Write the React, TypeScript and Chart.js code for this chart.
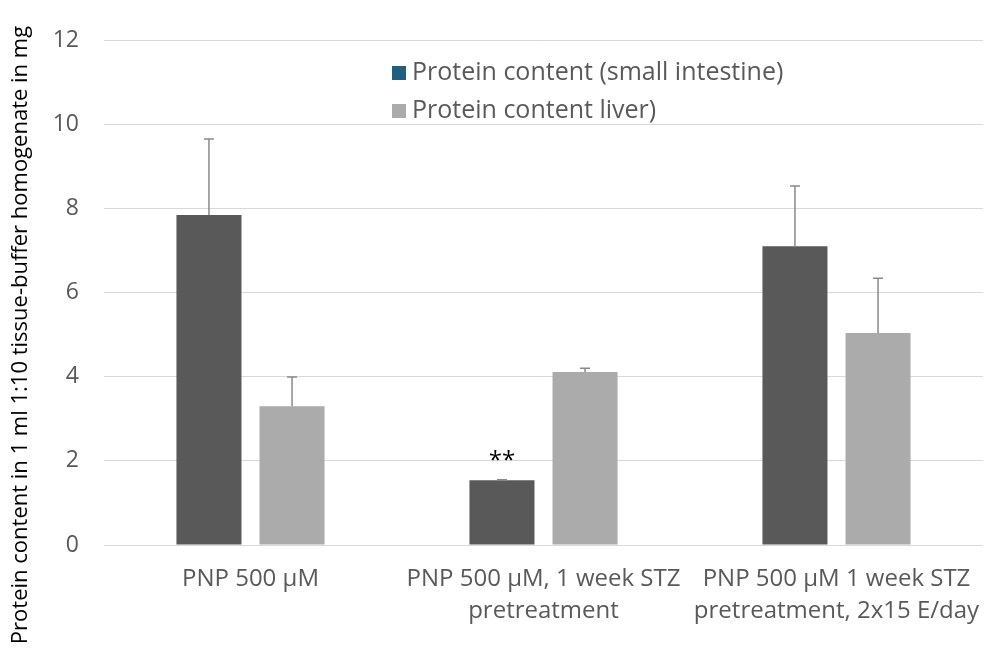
import React, { useEffect, useRef } from 'react';
import { Chart, registerables } from 'chart.js';

Chart.register(...registerables);

const categories: string[][] = [
  ['PNP 500 µM'],
  ['PNP 500 µM, 1 week STZ', 'pretreatment'],
  ['PNP 500 µM 1 week STZ', 'pretreatment, 2x15 E/day'],
];
const seriesNames = ['Protein content (small intestine)', 'Protein content liver)'];
const intestineValues = [7.84, 1.54, 7.1];
const intestineErrors = [1.81, 0.01, 1.43];
const liverValues = [3.3, 4.11, 5.04];
const liverErrors = [0.69, 0.09, 1.3];
const annotations = ['', '**', ''];
const yTicks = [0, 2, 4, 6, 8, 10, 12];
const yTitle = 'Protein content in 1 ml 1:10 tissue-buffer homogenate in mg';

const FONT = "'Open Sans', sans-serif";
const TEXT = '#595959';
const barColors = ['#595959', '#ababab'];
const legendColors = ['#1f5f7f', '#ababab'];
const errorSets = [intestineErrors, liverErrors];

const overlayPlugin = {
  id: 'overlay',
  afterDatasetsDraw(chart: any) {
    const ctx = chart.ctx;
    const yScale = chart.scales.y;
    ctx.save();
    chart.data.datasets.forEach((ds: any, di: number) => {
      const meta = chart.getDatasetMeta(di);
      meta.data.forEach((bar: any, i: number) => {
        const v = ds.data[i];
        const e = errorSets[di][i];
        const yTop = yScale.getPixelForValue(v + e);
        ctx.strokeStyle = '#8a8a8a';
        ctx.lineWidth = 1.5;
        ctx.beginPath();
        ctx.moveTo(bar.x, bar.y);
        ctx.lineTo(bar.x, yTop);
        ctx.moveTo(bar.x - 5, yTop);
        ctx.lineTo(bar.x + 5, yTop);
        ctx.stroke();
        if (di === 0 && annotations[i]) {
          ctx.fillStyle = '#000';
          ctx.font = `24px ${FONT}`;
          ctx.textAlign = 'center';
          ctx.textBaseline = 'alphabetic';
          ctx.fillText(annotations[i], bar.x, yTop - 12);
        }
      });
    });
    ctx.font = `25px ${FONT}`;
    ctx.textAlign = 'left';
    ctx.textBaseline = 'middle';
    seriesNames.forEach((name, i) => {
      const y = 73 + i * 38;
      ctx.fillStyle = legendColors[i];
      ctx.fillRect(392, y - 7, 14, 14);
      ctx.fillStyle = TEXT;
      ctx.fillText(name, 412, y);
    });
    ctx.translate(21, 335);
    ctx.rotate(-Math.PI / 2);
    ctx.font = `22px ${FONT}`;
    ctx.textAlign = 'center';
    ctx.textBaseline = 'middle';
    ctx.fillStyle = '#000';
    ctx.fillText(yTitle, 0, 0);
    ctx.restore();
  },
};

export default function App() {
  const ref = useRef<HTMLCanvasElement | null>(null);
  useEffect(() => {
    if (!ref.current) return;
    const chart = new Chart(ref.current, {
      type: 'bar',
      data: {
        labels: categories,
        datasets: [
          { label: seriesNames[0], data: intestineValues, backgroundColor: barColors[0] },
          { label: seriesNames[1], data: liverValues, backgroundColor: barColors[1] },
        ],
      },
      options: {
        animation: false,
        responsive: true,
        maintainAspectRatio: false,
        layout: { padding: { top: 40, right: 17, left: 0, bottom: 0 } },
        datasets: { bar: { categoryPercentage: 0.567, barPercentage: 0.783 } },
        plugins: { legend: { display: false }, tooltip: { enabled: false } },
        scales: {
          x: {
            grid: { display: false },
            border: { display: false },
            ticks: { color: TEXT, font: { family: FONT, size: 24, lineHeight: 1.3 }, padding: 11, maxRotation: 0, autoSkip: false },
            afterFit: (s: any) => { s.height = 118; },
          },
          y: {
            min: 0,
            max: 12,
            grid: { color: '#d9d9d9', drawTicks: false },
            border: { display: false },
            ticks: { color: TEXT, font: { family: FONT, size: 23 }, padding: 25 },
            afterBuildTicks: (s: any) => { s.ticks = yTicks.map((v) => ({ value: v })); },
            afterFit: (s: any) => { s.width = 104; },
          },
        },
      },
      plugins: [overlayPlugin],
    });
    return () => chart.destroy();
  }, []);
  return (
    <div style={{ position: 'fixed', left: 0, top: 0, width: 1000, height: 663, background: '#fff' }}>
      <canvas ref={ref} />
    </div>
  );
}
